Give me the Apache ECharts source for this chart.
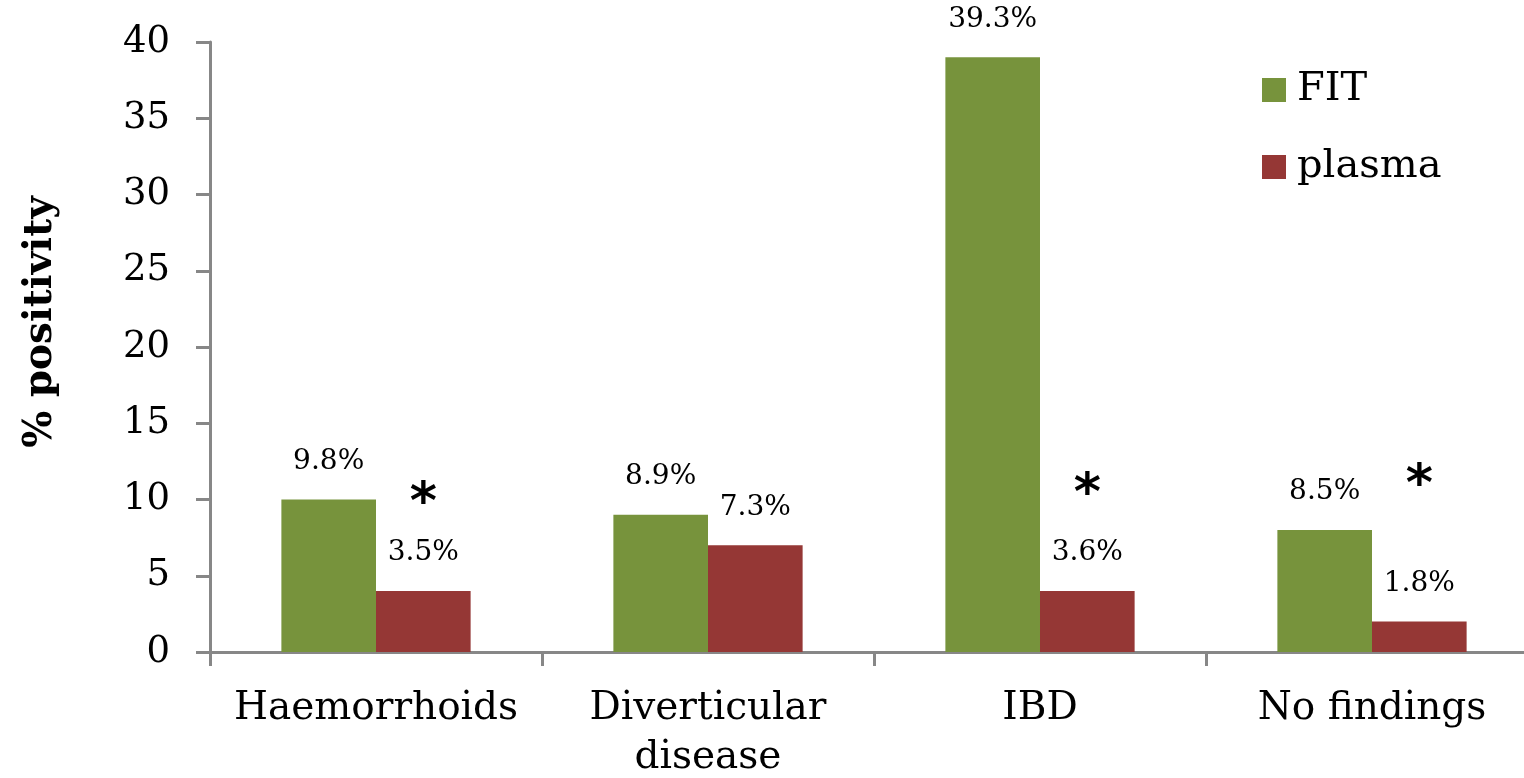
<!DOCTYPE html>
<html>
<head>
<meta charset="utf-8">
<script src="https://cdn.jsdelivr.net/npm/echarts@6/dist/echarts.min.js"></script>
<style>
html,body{margin:0;padding:0;background:#fff;}
#chart{width:1524px;height:778px;}
</style>
</head>
<body>
<div id="chart"></div>
<script>
const categories = ['Haemorrhoids', 'Diverticular\ndisease', 'IBD', 'No findings'];
const fitValues = [10, 9, 39, 8];
const plasmaValues = [4, 7, 4, 2];
const fitLabels = ['9.8%', '8.9%', '39.3%', '8.5%'];
const plasmaLabels = ['3.5%', '7.3%', '3.6%', '1.8%'];
const asteriskLevels = [10.3, null, 10.95, 11.5];
const yTicks = [0, 5, 10, 15, 20, 25, 30, 35, 40];

const FONT = 'DejaVu Serif';
const AXIS_COLOR = '#878787';

const chart = echarts.init(document.getElementById('chart'));

const markData = [];
asteriskLevels.forEach(function (v, i) {
  if (v !== null) markData.push({ coord: [i, v], value: '*' });
});

chart.setOption({
  animation: false,
  backgroundColor: '#ffffff',
  textStyle: { fontFamily: FONT },
  grid: { left: 210, width: 1328, top: 42, bottom: 126, containLabel: false, outerBoundsMode: 'none' },
  legend: {
    orient: 'vertical',
    left: 1257,
    top: 64,
    itemWidth: 24,
    itemHeight: 24,
    itemGap: 35,
    icon: 'rect',
    textStyle: { fontFamily: FONT, fontSize: 40, color: '#000', lineHeight: 42, padding: [0, 0, 0, 6] },
    data: ['FIT', 'plasma']
  },
  xAxis: {
    type: 'category',
    data: categories,
    boundaryGap: true,
    axisLine: { lineStyle: { color: AXIS_COLOR, width: 3 } },
    axisTick: { show: true, interval: 0, length: 14, lineStyle: { color: AXIS_COLOR, width: 3 } },
    axisLabel: { interval: 0, margin: 32, color: '#000', fontFamily: FONT, fontSize: 39, lineHeight: 49 }
  },
  yAxis: {
    type: 'value',
    min: yTicks[0],
    max: yTicks[yTicks.length - 1],
    interval: yTicks[1] - yTicks[0],
    name: '% positivity',
    nameLocation: 'middle',
    nameGap: 150,
    nameTextStyle: { fontFamily: FONT, fontSize: 39, fontWeight: 'bold', color: '#000', padding: [0, 0, 0, 50] },
    splitLine: { show: false },
    axisLine: { show: true, lineStyle: { color: AXIS_COLOR, width: 3 } },
    axisTick: { show: true, length: 14, lineStyle: { color: AXIS_COLOR, width: 3 } },
    axisLabel: { margin: 40, color: '#000', fontFamily: FONT, fontSize: 37 }
  },
  series: [
    {
      name: 'FIT',
      type: 'bar',
      data: fitValues,
      barGap: '0%',
      barCategoryGap: '43%',
      itemStyle: { color: '#77933C' },
      label: {
        show: true,
        position: 'top',
        distance: 24,
        color: '#000',
        fontFamily: FONT,
        fontSize: 28,
        formatter: function (p) { return fitLabels[p.dataIndex]; }
      }
    },
    {
      name: 'plasma',
      type: 'bar',
      data: plasmaValues,
      itemStyle: { color: '#953735' },
      label: {
        show: true,
        position: 'top',
        distance: 24,
        color: '#000',
        fontFamily: FONT,
        fontSize: 28,
        formatter: function (p) { return plasmaLabels[p.dataIndex]; }
      },
      markPoint: {
        symbol: 'circle',
        symbolSize: 1,
        itemStyle: { color: 'rgba(0,0,0,0)' },
        label: {
          show: true,
          position: 'inside',
          formatter: '*',
          color: '#000',
          fontFamily: 'DejaVu Sans',
          fontSize: 52,
          fontWeight: 'bold',
          offset: [0, 10]
        },
        data: markData
      }
    }
  ]
});
</script>
</body>
</html>
